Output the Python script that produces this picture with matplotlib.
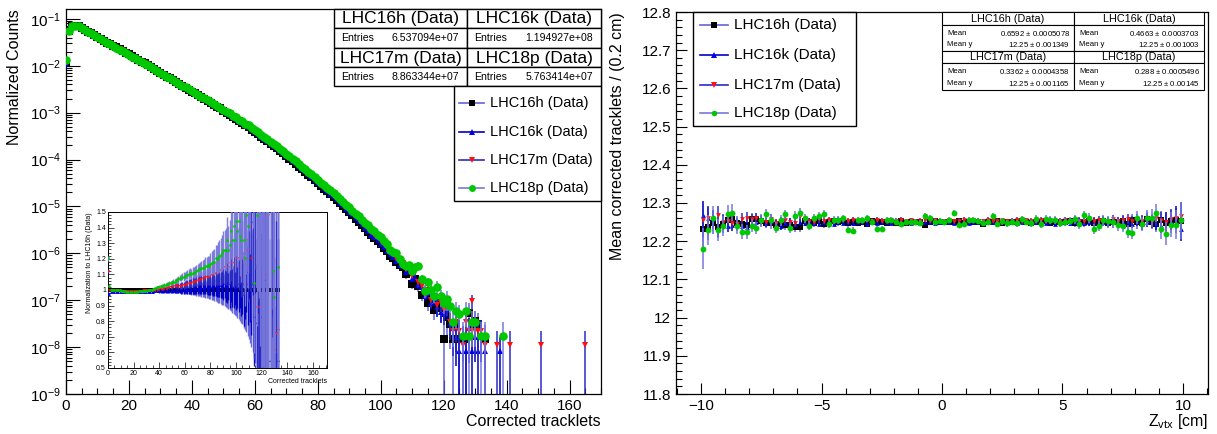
import numpy as np
import matplotlib
matplotlib.use("Agg")
import matplotlib.pyplot as plt
from matplotlib.patches import Rectangle
from matplotlib.lines import Line2D
from matplotlib.ticker import MultipleLocator, FixedLocator, NullFormatter

plt.rcParams['font.family'] = ['Liberation Sans', 'DejaVu Sans']
plt.rcParams['mathtext.fontset'] = 'custom'
plt.rcParams['mathtext.rm'] = 'Liberation Sans'
plt.rcParams['mathtext.it'] = 'Liberation Sans:italic'

W, H = 1217, 434
nan = np.nan

names = ["LHC16h (Data)", "LHC16k (Data)", "LHC17m (Data)", "LHC18p (Data)"]
entries = [6.537094e+07, 1.194927e+08, 8.863344e+07, 5.763414e+07]
mean_x = ["0.6592 $\\pm$ 0.0005078", "0.4663 $\\pm$ 0.0003703",
          "0.3362 $\\pm$ 0.0004358", "0.288 $\\pm$ 0.0005496"]
mean_y = ["12.25 $\\pm$ 0.001349", "12.25 $\\pm$ 0.001003",
          "12.25 $\\pm$ 0.001165", "12.25 $\\pm$ 0.00145"]
err_y_stat = [0.001349, 0.001003, 0.001165, 0.00145]

# log10 of normalized counts, one value per tracklet bin (0, 1, 2, ...)
log_16h = [-1.95, -1.26, -1.16, -1.15, -1.16, -1.19, -1.23, -1.27, -1.31, -1.35,
           -1.39, -1.43, -1.47, -1.51, -1.54, -1.58, -1.61, -1.65, -1.68, -1.72,
           -1.76, -1.80, -1.83, -1.87, -1.91, -1.95, -1.99, -2.03, -2.07, -2.11,
           -2.15, -2.19, -2.23, -2.27, -2.31, -2.35, -2.39, -2.43, -2.47, -2.51,
           -2.55, -2.59, -2.63, -2.67, -2.71, -2.75, -2.79, -2.83, -2.87, -2.91,
           -2.96, -3.00, -3.04, -3.09, -3.13, -3.18, -3.22, -3.27, -3.31, -3.36,
           -3.41, -3.46, -3.51, -3.56, -3.61, -3.66, -3.71, -3.76, -3.82, -3.87,
           -3.93, -3.98, -4.04, -4.09, -4.15, -4.21, -4.26, -4.32, -4.38, -4.44,
           -4.50, -4.56, -4.62, -4.68, -4.74, -4.80, -4.86, -4.93, -4.99, -5.06,
           -5.12, -5.19, -5.26, -5.33, -5.40, -5.47, -5.54, -5.61, -5.67, -5.74,
           -5.81, -5.88, -5.96, -6.05, -6.09, -6.18, -6.24, -6.30, -6.45, -6.40,
           -6.66, -6.55, -6.70, -6.88, -6.82, -7.05, -6.95, -7.20, -7.05, -7.17,
           -7.82, -7.35, -7.51, -7.82, -7.51, -7.82, nan, -7.82, -7.27, -7.51,
           -7.44, -7.51, nan, -7.82]
log_16k = [-1.96, -1.27, -1.165, -1.155, -1.165, -1.195, -1.235, -1.275, -1.315, -1.355,
           -1.395, -1.435, -1.475, -1.515, -1.545, -1.585, -1.615, -1.655, -1.685, -1.725,
           -1.765, -1.805, -1.835, -1.875, -1.915, -1.955, -1.995, -2.035, -2.075, -2.115,
           -2.155, -2.195, -2.235, -2.275, -2.315, -2.355, -2.394, -2.434, -2.474, -2.514,
           -2.554, -2.594, -2.634, -2.674, -2.714, -2.754, -2.794, -2.834, -2.874, -2.913,
           -2.962, -3.002, -3.042, -3.092, -3.132, -3.182, -3.222, -3.272, -3.311, -3.361,
           -3.410, -3.460, -3.510, -3.559, -3.609, -3.659, -3.708, -3.758, -3.817, -3.867,
           -3.926, -3.975, -4.035, -4.084, -4.144, -4.203, -4.253, -4.312, -4.372, -4.431,
           -4.491, -4.550, -4.610, -4.669, -4.729, -4.788, -4.848, -4.917, -4.976, -5.045,
           -5.11, -5.17, -5.25, -5.32, -5.38, -5.47, -5.52, -5.60, -5.66, -5.72,
           -5.80, -5.86, -5.95, -6.02, -6.08, -6.16, -6.25, -6.28, -6.40, -6.38,
           -6.55, -6.50, -6.68, -6.72, -6.90, -6.85, -7.05, -7.00, -7.15, -7.25,
           -7.30, -7.20, -7.48, -7.60, -7.78, -8.08, -7.78, -8.08, -7.60, -8.08,
           -7.78, -8.08, -7.78, -8.08, nan, nan, nan, nan, -8.08]
log_17m = [-1.90, -1.26, -1.16, -1.15, -1.16, -1.19, -1.23, -1.27, -1.31, -1.35,
           -1.392, -1.432, -1.472, -1.512, -1.543, -1.583, -1.613, -1.653, -1.683, -1.723,
           -1.763, -1.803, -1.833, -1.873, -1.912, -1.952, -1.992, -2.031, -2.071, -2.111,
           -2.151, -2.190, -2.230, -2.270, -2.310, -2.350, -2.389, -2.429, -2.469, -2.508,
           -2.548, -2.587, -2.627, -2.666, -2.705, -2.745, -2.784, -2.823, -2.862, -2.901,
           -2.950, -2.989, -3.028, -3.078, -3.117, -3.168, -3.208, -3.258, -3.297, -3.347,
           -3.395, -3.444, -3.493, -3.542, -3.591, -3.640, -3.688, -3.737, -3.796, -3.845,
           -3.903, -3.952, -4.011, -4.060, -4.118, -4.177, -4.226, -4.285, -4.344, -4.402,
           -4.461, -4.520, -4.578, -4.637, -4.696, -4.755, -4.813, -4.880, -4.938, -5.005,
           -5.06, -5.13, -5.20, -5.26, -5.34, -5.40, -5.46, -5.54, -5.60, -5.66,
           -5.73, -5.80, -5.88, -5.95, -6.02, -6.10, -6.15, -6.20, -6.33, -6.30,
           -6.48, -6.40, -6.62, -6.70, -6.85, -6.78, -7.00, -6.95, -7.10, -7.05,
           -7.20, -7.10, -7.47, -7.65, -7.47, -7.65, -7.95, -7.47, -7.65, -7.02,
           -7.65, -7.65, -7.65, -7.95, nan, nan, nan, -7.95, nan, nan,
           nan, -7.95, nan, nan, nan, nan, nan, nan, nan, nan,
           nan, -7.95, nan, nan, nan, nan, nan, nan, nan, nan,
           nan, nan, nan, nan, nan, -7.95]
log_18p = [-1.87, -1.25, -1.16, -1.15, -1.16, -1.19, -1.23, -1.27, -1.31, -1.35,
           -1.394, -1.434, -1.474, -1.514, -1.545, -1.585, -1.615, -1.655, -1.685, -1.725,
           -1.765, -1.805, -1.835, -1.875, -1.914, -1.954, -1.994, -2.033, -2.073, -2.112,
           -2.152, -2.191, -2.231, -2.270, -2.309, -2.348, -2.386, -2.424, -2.463, -2.502,
           -2.541, -2.580, -2.619, -2.658, -2.697, -2.736, -2.774, -2.813, -2.852, -2.891,
           -2.939, -2.978, -3.017, -3.064, -3.102, -3.151, -3.188, -3.237, -3.274, -3.324,
           -3.372, -3.420, -3.469, -3.518, -3.566, -3.617, -3.664, -3.714, -3.773, -3.820,
           -3.878, -3.926, -3.985, -4.033, -4.093, -4.152, -4.198, -4.257, -4.316, -4.378,
           -4.433, -4.490, -4.548, -4.608, -4.660, -4.722, -4.778, -4.845, -4.902, -4.968,
           -5.02, -5.09, -5.16, -5.21, -5.30, -5.36, -5.40, -5.49, -5.52, -5.62,
           -5.65, -5.74, -5.80, -5.92, -5.97, -6.00, -6.12, -6.22, -6.28, -6.25,
           -6.38, -6.30, -6.26, -6.55, -6.80, -6.62, -6.78, -6.90, -6.72, -6.92,
           -7.05, -6.97, -7.12, -7.46, -7.23, -7.30, -7.76, -7.23, -7.76, -7.46,
           -7.46, nan, -7.76, -7.76, nan, nan, nan, nan, nan, -7.76]

# relative uncertainty of the LHC16h bins
rel_16h = [0.010, 0.002, 0.002, 0.002, 0.002, 0.002, 0.002, 0.002, 0.002, 0.002,
           0.002, 0.002, 0.002, 0.002, 0.002, 0.002, 0.002, 0.002, 0.002, 0.002,
           0.002, 0.002, 0.002, 0.002, 0.002, 0.002, 0.002, 0.003, 0.003, 0.003,
           0.003, 0.003, 0.003, 0.003, 0.004, 0.004, 0.004, 0.005, 0.005, 0.005,
           0.006, 0.006, 0.007, 0.007, 0.008, 0.008, 0.009, 0.009, 0.010, 0.010,
           0.011, 0.011, 0.012, 0.012, 0.013, 0.014, 0.014, 0.015, 0.016, 0.017,
           0.017, 0.018, 0.019, 0.020, 0.020, 0.021, 0.022, 0.023, 0.024, 0.025,
           0.026, 0.027, 0.028, 0.030, 0.031, 0.033, 0.034, 0.036, 0.038, 0.040,
           0.042, 0.045, 0.047, 0.050, 0.052, 0.055, 0.058, 0.061, 0.064, 0.067,
           0.070, 0.074, 0.078, 0.082, 0.086, 0.091, 0.096, 0.102, 0.107, 0.113,
           0.119, 0.126, 0.132, 0.140, 0.148, 0.156, 0.17, 0.18, 0.19, 0.21,
           0.22, 0.24, 0.26, 0.28, 0.30, 0.33, 0.36, 0.40, 0.45, 0.50,
           1.00, 0.65, 0.70, 1.00, 0.75, 1.00, 1.00, 1.00, 0.60, 0.70,
           0.65, 0.70, 1.00, 1.00]

# mean corrected tracklets vs z vertex, 100 bins of 0.2 cm from -10 to 10
mean_16h = [12.232, 12.238, 12.248, 12.236, 12.245, 12.255, 12.258, 12.247, 12.245, 12.243,
            12.258, 12.259, 12.252, 12.248, 12.247, 12.243, 12.244, 12.242, 12.243, 12.237,
            12.236, 12.254, 12.250, 12.248, 12.252, 12.245, 12.250, 12.253, 12.250, 12.252,
            12.248, 12.251, 12.247, 12.250, 12.246, 12.252, 12.249, 12.251, 12.247, 12.250,
            12.248, 12.252, 12.247, 12.250, 12.251, 12.249, 12.242, 12.250, 12.252, 12.250,
            12.251, 12.249, 12.250, 12.252, 12.248, 12.250, 12.251, 12.249, 12.244, 12.251,
            12.249, 12.252, 12.248, 12.250, 12.251, 12.249, 12.252, 12.250, 12.248, 12.251,
            12.250, 12.252, 12.248, 12.251, 12.249, 12.250, 12.252, 12.247, 12.250, 12.249,
            12.252, 12.248, 12.250, 12.253, 12.247, 12.249, 12.250, 12.252, 12.244, 12.255,
            12.250, 12.247, 12.258, 12.251, 12.245, 12.255, 12.247, 12.252, 12.256, 12.254]
mean_16k = [12.268, 12.262, 12.258, 12.232, 12.247, 12.240, 12.242, 12.245, 12.240, 12.238,
            12.244, 12.250, 12.256, 12.248, 12.252, 12.245, 12.240, 12.248, 12.252, 12.246,
            12.250, 12.247, 12.252, 12.248, 12.246, 12.251, 12.249, 12.246, 12.251, 12.248,
            12.250, 12.247, 12.251, 12.249, 12.246, 12.250, 12.248, 12.251, 12.249, 12.247,
            12.250, 12.249, 12.251, 12.248, 12.250, 12.247, 12.249, 12.251, 12.248, 12.250,
            12.249, 12.251, 12.248, 12.250, 12.249, 12.247, 12.250, 12.251, 12.248, 12.250,
            12.249, 12.247, 12.251, 12.249, 12.250, 12.248, 12.251, 12.249, 12.247, 12.250,
            12.251, 12.248, 12.250, 12.246, 12.249, 12.251, 12.248, 12.250, 12.252, 12.247,
            12.249, 12.251, 12.246, 12.250, 12.248, 12.252, 12.245, 12.249, 12.251, 12.246,
            12.252, 12.244, 12.250, 12.255, 12.246, 12.240, 12.256, 12.252, 12.262, 12.233]
mean_17m = [12.255, 12.260, 12.257, 12.268, 12.250, 12.252, 12.247, 12.245, 12.258, 12.262,
            12.258, 12.262, 12.255, 12.250, 12.258, 12.248, 12.252, 12.255, 12.250, 12.247,
            12.265, 12.255, 12.252, 12.250, 12.257, 12.254, 12.255, 12.252, 12.256, 12.255,
            12.253, 12.256, 12.254, 12.252, 12.255, 12.253, 12.256, 12.254, 12.252, 12.255,
            12.254, 12.256, 12.253, 12.255, 12.252, 12.254, 12.256, 12.253, 12.255, 12.254,
            12.253, 12.255, 12.252, 12.254, 12.256, 12.253, 12.255, 12.254, 12.252, 12.256,
            12.254, 12.253, 12.255, 12.252, 12.254, 12.256, 12.253, 12.255, 12.254, 12.252,
            12.255, 12.253, 12.256, 12.254, 12.252, 12.255, 12.253, 12.256, 12.254, 12.253,
            12.255, 12.252, 12.256, 12.254, 12.253, 12.257, 12.252, 12.255, 12.258, 12.253,
            12.256, 12.254, 12.258, 12.252, 12.260, 12.255, 12.250, 12.258, 12.262, 12.265]
mean_18p = [12.180, 12.230, 12.260, 12.230, 12.240, 12.270, 12.275, 12.240, 12.225, 12.225,
            12.240, 12.235, 12.255, 12.270, 12.255, 12.235, 12.255, 12.270, 12.235, 12.265,
            12.275, 12.260, 12.240, 12.260, 12.265, 12.270, 12.245, 12.255, 12.255, 12.260,
            12.230, 12.228, 12.255, 12.255, 12.260, 12.250, 12.232, 12.232, 12.255, 12.255,
            12.250, 12.245, 12.250, 12.250, 12.250, 12.248, 12.265, 12.262, 12.250, 12.252,
            12.250, 12.255, 12.273, 12.243, 12.245, 12.255, 12.255, 12.253, 12.248, 12.250,
            12.266, 12.245, 12.252, 12.247, 12.250, 12.247, 12.258, 12.250, 12.247, 12.258,
            12.245, 12.258, 12.255, 12.255, 12.247, 12.250, 12.252, 12.258, 12.245, 12.268,
            12.260, 12.233, 12.240, 12.255, 12.252, 12.250, 12.243, 12.240, 12.225, 12.222,
            12.262, 12.245, 12.260, 12.262, 12.273, 12.232, 12.220, 12.243, 12.243, 12.255]
# bin uncertainty of LHC16h profile
err_16h_z = [0.050, 0.036, 0.030, 0.027, 0.024, 0.022, 0.020, 0.019, 0.018, 0.017,
             0.016, 0.015, 0.015, 0.014, 0.014, 0.013, 0.013, 0.012, 0.012, 0.012,
             0.011, 0.011, 0.011, 0.010, 0.010, 0.010, 0.010, 0.009, 0.009, 0.009,
             0.009, 0.009, 0.008, 0.008, 0.008, 0.008, 0.008, 0.008, 0.008, 0.007,
             0.007, 0.007, 0.007, 0.007, 0.007, 0.007, 0.007, 0.007, 0.007, 0.007,
             0.007, 0.007, 0.007, 0.007, 0.007, 0.007, 0.007, 0.007, 0.007, 0.007,
             0.007, 0.008, 0.008, 0.008, 0.008, 0.008, 0.008, 0.008, 0.009, 0.009,
             0.009, 0.009, 0.009, 0.010, 0.010, 0.010, 0.010, 0.011, 0.011, 0.011,
             0.012, 0.012, 0.012, 0.013, 0.013, 0.014, 0.014, 0.015, 0.015, 0.016,
             0.017, 0.018, 0.019, 0.020, 0.022, 0.024, 0.027, 0.030, 0.035, 0.045]

y_decades = [1e-9, 1e-8, 1e-7, 1e-6, 1e-5, 1e-4, 1e-3, 1e-2, 1e-1]

marker_colors = ["black", "#0000e0", "#ff1010", "#00c800"]
line_colors = ["#6464d8", "#0000c8", "#2c2cc4", "#7878dc"]
markers = ["s", "^", "v", "o"]

fontsize = 11


def px(x, y):
    return (x / W, 1 - y / H)


def box(x0, y0, x1, y1, lw=1.0):
    fig.add_artist(Rectangle(px(x0, y1), (x1 - x0) / W, (y1 - y0) / H,
                             transform=fig.transFigure, fc="white",
                             ec="black", lw=lw, zorder=10))


def ftext(x, y, s, **kw):
    fig.text(x / W, 1 - y / H, s, zorder=11, **kw)


def legend_entry(x0, x1, xt, y, i, ms, fs):
    fig.add_artist(Line2D([x0 / W, x1 / W], [1 - y / H] * 2, color=line_colors[i],
                          lw=1.2, transform=fig.transFigure, zorder=11))
    fig.add_artist(Line2D([(x0 + x1) / 2 / W], [1 - y / H], marker=markers[i],
                          color=marker_colors[i], ms=ms, mew=0, ls="none",
                          transform=fig.transFigure, zorder=12))
    ftext(xt, y, names[i], va="center", ha="left", fontsize=fs)


def style_axis(ax):
    ax.tick_params(which="both", direction="in", top=False, right=False,
                   labelsize=fontsize, width=0.8)
    ax.tick_params(which="major", length=8)
    ax.tick_params(which="minor", length=4)
    for s in ax.spines.values():
        s.set_linewidth(0.9)


fig = plt.figure(figsize=(W / 100, H / 100), dpi=100)

# ---------------- left: normalized counts ----------------
ax1 = fig.add_axes([66 / W, 1 - 394 / H, (601 - 66) / W, (394 - 9) / H])
logs = [log_16h, log_16k, log_17m, log_18p]
vals, rels = [], []
yh = 10 ** np.array(log_16h)
nh = yh * entries[0]
for i, lg in enumerate(logs):
    y = 10 ** np.array(lg)
    n = y * entries[i]
    rel = np.ones(len(y))
    for k in range(len(y)):
        if k < len(yh) and not np.isnan(yh[k]):
            rel[k] = min(1.0, rel_16h[k] * np.sqrt(nh[k] / n[k]))
        else:
            rel[k] = min(1.0, 1 / np.sqrt(n[k])) if not np.isnan(n[k]) else 1.0
    vals.append(y)
    rels.append(rel)

msize = [5.6, 4.6, 4.6, 6.2]
for i in range(4):
    x = np.arange(len(vals[i]))
    y = vals[i]
    lo = np.minimum(y * rels[i], y - 1e-12)
    hi = y * rels[i]
    ax1.errorbar(x, y, yerr=[lo, hi], fmt=markers[i], color=marker_colors[i],
                 ecolor=line_colors[i], elinewidth=1.1, capsize=0,
                 ms=msize[i], mew=0, zorder=3 + i)
ax1.set_yscale("log")
ax1.set_xlim(0, 170)
ax1.set_ylim(1e-9, 10 ** -0.79)
ax1.xaxis.set_major_locator(MultipleLocator(20))
ax1.xaxis.set_minor_locator(MultipleLocator(5))
ax1.yaxis.set_major_locator(FixedLocator(y_decades))
minor = [m * d for d in y_decades for m in range(2, 10) if m * d < 10 ** -0.79]
ax1.yaxis.set_minor_locator(FixedLocator(minor))
ax1.yaxis.set_minor_formatter(NullFormatter())
style_axis(ax1)
ax1.tick_params(which="major", length=10)
ax1.set_ylabel("Normalized Counts", fontsize=11.5, loc="top")
ax1.yaxis.set_label_coords(-0.083, 1.0)
ax1.set_xlabel("Corrected tracklets", fontsize=11.5, loc="right")
ax1.xaxis.set_label_coords(1.0, -0.052)

# inset: ratio to LHC16h
axi = fig.add_axes([108 / W, 1 - 368 / H, (327 - 108) / W, (368 - 212) / H])
for i in range(4):
    n = min(len(vals[i]), len(yh))
    r = vals[i][:n] / yh[:n]
    e = r * np.sqrt(rels[i][:n] ** 2 + np.array(rel_16h[:n]) ** 2)
    axi.errorbar(np.arange(n), r, yerr=e, fmt=markers[i], color=marker_colors[i],
                 ecolor=line_colors[i], elinewidth=1.0, capsize=0,
                 ms=3.0 if i == 0 else 2.0, mew=0, zorder=3 + i, alpha=0.95)
axi.set_xlim(0, 171)
axi.set_ylim(0.5, 1.5)
axi.xaxis.set_major_locator(MultipleLocator(20))
axi.xaxis.set_minor_locator(MultipleLocator(5))
axi.yaxis.set_major_locator(MultipleLocator(0.1))
axi.yaxis.set_minor_locator(MultipleLocator(0.02))
axi.tick_params(which="both", direction="in", top=False, right=False,
                labelsize=5, width=0.5, pad=1.5)
axi.tick_params(which="major", length=4)
axi.tick_params(which="minor", length=2)
axi.yaxis.set_major_formatter(plt.FuncFormatter(lambda v, p: "%g" % round(v, 1)))
for s in axi.spines.values():
    s.set_linewidth(0.7)
axi.set_ylabel("Normalization to LHC16h (Data)", fontsize=5, loc="top", labelpad=2)
axi.set_xlabel("Corrected tracklets", fontsize=5, loc="right", labelpad=1)

# stats boxes left
cols = [(334, 467), (467, 601)]
rows = [(9, 28, 48), (48, 67, 86)]
for j in range(4):
    c0, c1 = cols[j % 2]
    r0, r1, r2 = rows[j // 2]
    box(c0, r0, c1, r1)
    box(c0, r1, c1, r2)
    ftext((c0 + c1) / 2, (r0 + r1) / 2 + 0.5, names[j], ha="center", va="center",
          fontsize=12.5)
    ftext(c0 + 7, (r1 + r2) / 2, "Entries", ha="left", va="center", fontsize=7.6)
    ftext(c1 - 8, (r1 + r2) / 2, "%.6e" % entries[j], ha="right", va="center",
          fontsize=7.6)

# legend left
box(454, 86, 601, 201)
for j, yy in enumerate([103, 132, 160, 188]):
    legend_entry(459, 484, 490, yy, j, 5.0 if markers[j] in "so" else 4.5, 10.5)

# ---------------- right: mean vs z ----------------
ax2 = fig.add_axes([676 / W, 1 - 394 / H, (1208 - 676) / W, (394 - 12) / H])
zc = np.arange(100) * 0.2 - 9.9
means = [mean_16h, mean_16k, mean_17m, mean_18p]
for i in range(4):
    e = np.array(err_16h_z) * err_y_stat[i] / err_y_stat[0]
    ax2.errorbar(zc, means[i], yerr=e, fmt=markers[i], color=marker_colors[i],
                 ecolor=line_colors[i], elinewidth=1.1, capsize=0,
                 ms=4.2 if markers[i] in "so" else 3.4, mew=0, zorder=3 + i)
ax2.set_xlim(-11.04, 11.04)
ax2.set_ylim(11.8, 12.8)
ax2.xaxis.set_major_locator(MultipleLocator(5))
ax2.xaxis.set_minor_locator(MultipleLocator(1))
ax2.yaxis.set_major_locator(MultipleLocator(0.1))
ax2.yaxis.set_minor_locator(MultipleLocator(0.02))
ax2.yaxis.set_major_formatter(plt.FuncFormatter(lambda v, p: "%g" % round(v, 1)))
style_axis(ax2)
ax2.set_ylabel("Mean corrected tracklets / (0.2 cm)", fontsize=11.5, loc="top")
ax2.yaxis.set_label_coords(-0.095, 1.0)
ax2.set_xlabel("Z$_{\\rm vtx}$ [cm]", fontsize=11.5, loc="right")
ax2.xaxis.set_label_coords(1.0, -0.047)

# legend right
box(693, 12, 856, 126)
for j, yy in enumerate([25, 55, 85, 113]):
    legend_entry(700, 728, 734, yy, j, 4.0, 11)

# stats boxes right
cols = [(942, 1074), (1074, 1204)]
rows = [(12, 25, 51), (51, 63, 90)]
for j in range(4):
    c0, c1 = cols[j % 2]
    r0, r1, r2 = rows[j // 2]
    box(c0, r0, c1, r1, lw=0.8)
    box(c0, r1, c1, r2, lw=0.8)
    ftext((c0 + c1) / 2, (r0 + r1) / 2 + 0.5, names[j], ha="center", va="center",
          fontsize=7.8)
    ya = r1 + (r2 - r1) * 0.33
    yb = r1 + (r2 - r1) * 0.75
    ftext(c0 + 5, ya, "Mean", ha="left", va="center", fontsize=5.6)
    ftext(c0 + 5, yb, "Mean y", ha="left", va="center", fontsize=5.6)
    ftext(c1 - 4, ya, mean_x[j], ha="right", va="center", fontsize=5.6)
    ftext(c1 - 4, yb, mean_y[j], ha="right", va="center", fontsize=5.6)

fig.savefig("out.png", dpi=100)
